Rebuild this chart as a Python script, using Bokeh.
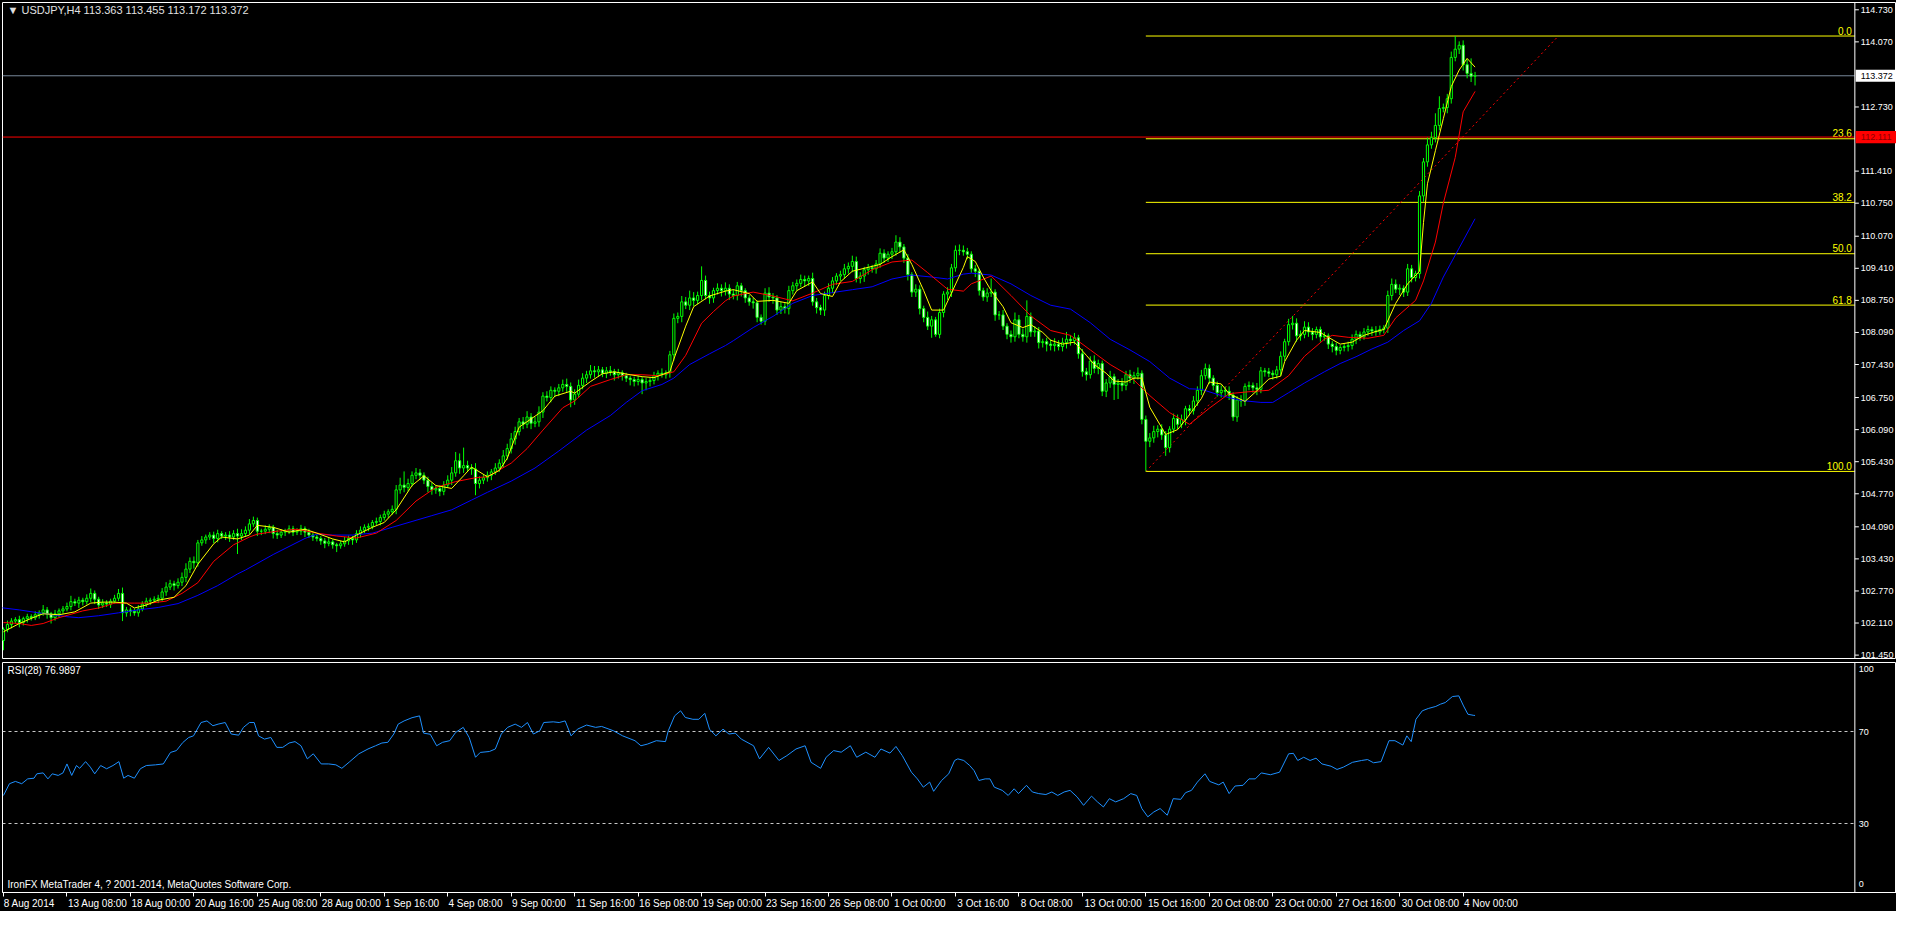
from bokeh.plotting import figure
from bokeh.layouts import column
from bokeh.models import FixedTicker, Range1d
from bokeh.embed import file_html
from bokeh.resources import INLINE
from bokeh.core.properties import value

# ---------------- data ----------------
title_text = "\u25bc USDJPY,H4  113.363 113.455 113.172 113.372"
rsi_title = "RSI(28) 76.9897"
copyright_text = "IronFX MetaTrader 4, ? 2001-2014, MetaQuotes Software Corp."

first_open = 101.75
closes = [
    101.98, 102.08,
    102.15, 102.18, 102.12, 102.20, 102.24, 102.22,
    102.28, 102.32, 102.38, 102.30, 102.22, 102.30,
    102.36, 102.40, 102.45, 102.55, 102.52, 102.58,
    102.55, 102.62, 102.72, 102.60, 102.48, 102.52,
    102.50, 102.56, 102.62, 102.72, 102.32, 102.38,
    102.35, 102.32, 102.40, 102.50, 102.56, 102.58,
    102.60, 102.62, 102.75, 102.85, 102.92, 102.88,
    102.95, 103.05, 103.22, 103.38, 103.35, 103.76,
    103.82, 103.88, 103.92, 103.85, 103.95, 103.90,
    103.92, 103.88, 103.95, 103.90, 103.95, 104.02,
    104.15, 104.22, 104.00, 104.00, 104.04, 104.08,
    103.95, 103.92, 103.98, 104.00, 104.05, 103.98,
    104.00, 104.05, 103.98, 103.92, 103.88, 103.85,
    103.80, 103.75, 103.78, 103.72, 103.70, 103.74,
    103.80, 103.85, 103.82, 103.95, 104.02, 104.08,
    104.10, 104.18, 104.20, 104.28, 104.35, 104.40,
    104.45, 104.85, 104.95, 104.90, 104.98, 105.15,
    105.20, 105.15, 105.05, 104.92, 104.85, 104.88,
    104.82, 104.95, 105.05, 105.20, 105.45, 105.30,
    105.35, 105.30, 105.28, 104.98, 105.05, 105.10,
    105.15, 105.22, 105.30, 105.40, 105.55, 105.70,
    105.90, 106.05, 106.25, 106.20, 106.35, 106.22,
    106.25, 106.45, 106.78, 106.75, 106.90, 106.88,
    106.95, 107.02, 106.98, 106.70, 106.82, 107.00,
    107.15, 107.22, 107.30, 107.28, 107.32, 107.25,
    107.30, 107.28, 107.22, 107.26, 107.20, 107.15,
    107.12, 107.08, 107.12, 107.05, 107.08, 107.10,
    107.20, 107.25, 107.22, 107.26, 107.63, 108.38,
    108.42, 108.72, 108.65, 108.80, 108.75, 108.85,
    109.16, 108.85, 108.80, 108.95, 109.00, 108.95,
    109.00, 108.88, 108.85, 109.05, 108.95, 108.80,
    108.72, 108.70, 108.40, 108.32, 108.90, 108.82,
    108.80, 108.55, 108.62, 108.58, 108.95, 109.05,
    109.10, 109.18, 109.15, 109.20, 108.72, 108.60,
    108.55, 108.85, 109.00, 109.15, 109.25, 109.28,
    109.40, 109.45, 109.55, 109.20, 109.25, 109.38,
    109.42, 109.40, 109.50, 109.72, 109.62, 109.70,
    109.75, 109.95, 109.85, 109.62, 109.28, 108.92,
    108.98, 108.58, 108.40, 108.22, 108.35, 108.05,
    108.50, 108.88, 108.92, 109.42, 109.78, 109.78,
    109.75, 109.70, 109.40, 109.35, 108.95, 108.82,
    108.90, 108.92, 108.45, 108.45, 108.22, 108.05,
    108.00, 108.35, 108.05, 108.00, 108.42, 108.10,
    108.12, 107.88, 107.90, 107.85, 107.82, 107.85,
    107.80, 107.88, 107.95, 107.92, 107.98, 107.65,
    107.28, 107.22, 107.50, 107.35, 107.45, 106.88,
    107.05, 107.18, 107.02, 107.05, 107.00, 107.22,
    107.15, 107.20, 107.25, 106.30, 105.85, 105.92,
    106.05, 106.10, 105.98, 105.72, 106.10, 106.32,
    106.20, 106.30, 106.52, 106.48, 106.68, 106.90,
    107.20, 107.35, 107.15, 107.00, 106.85, 106.90,
    106.88, 106.80, 106.35, 106.70, 106.68, 106.98,
    107.00, 106.95, 106.92, 107.30, 107.28, 107.25,
    107.22, 107.32, 107.60, 107.90, 108.25, 108.28,
    108.02, 108.05, 108.20, 108.10, 108.05, 108.15,
    108.00, 108.02, 107.85, 107.80, 107.72, 107.78,
    107.80, 107.82, 107.95, 108.05, 108.00, 108.10,
    108.15, 108.12, 108.10, 108.15, 108.18, 108.85,
    109.08, 108.98, 109.00, 108.92, 109.40, 109.22,
    109.30, 110.90, 111.60, 111.95, 112.10, 112.35,
    112.70, 112.72, 112.90, 113.75, 113.92, 114.00,
    113.60, 113.42, 113.363, 113.372,
]
# upper / lower wick lengths in pips (0.01)
wick_up = [
    4, 8,
    6, 5, 8, 4, 6, 5,   7, 5, 10, 6, 4, 8,   5, 6, 8, 12, 6, 7,   5, 8, 10, 6, 5, 8,   6, 5, 7, 9, 12, 6,
    5, 6, 8, 6, 7, 5,   6, 7, 8, 10, 8, 6,   8, 10, 12, 8, 10, 6,   8, 5, 6, 7, 8, 5,   6, 8, 7, 10, 9, 8,
    10, 8, 6, 5, 8, 6,  5, 8, 6, 5, 7, 6,    6, 8, 5, 7, 6, 5,    5, 6, 8, 5, 4, 6,   8, 6, 5, 7, 8, 6,
    6, 5, 8, 6, 7, 5,   8, 10, 15, 28, 10, 8,  10, 8, 6, 7, 8, 6,  6, 8, 10, 12, 18, 15,  37, 10, 8, 12, 8, 6,
    8, 6, 10, 8, 12, 10,  12, 10, 8, 10, 12, 8,  10, 12, 8, 10, 8, 6,  8, 10, 12, 8, 10, 12,  10, 8, 12, 10, 8, 6,
    8, 10, 6, 8, 5, 6,  5, 6, 8, 5, 7, 6,  8, 6, 10, 5, 8, 10,  8, 12, 10, 15, 12, 8,  29, 10, 8, 6, 10, 8,
    12, 8, 10, 8, 6, 5,  6, 8, 5, 6, 10, 12,  8, 6, 10, 8, 10, 8,  8, 10, 8, 6, 12, 8,  6, 8, 10, 8, 6, 8,
    10, 8, 12, 10, 8, 6,  8, 6, 8, 10, 8, 6,  8, 14, 10, 6, 8, 5,  10, 8, 6, 12, 8, 6,  8, 6, 10, 8, 10, 12,
    10, 8, 6, 8, 5, 6,  10, 28, 6, 8, 10, 6,  8, 15, 10, 12, 33, 8,  10, 8, 6, 8, 10, 12,  8, 10, 15, 8, 10, 6,
    10, 8, 10, 12, 8, 6,  8, 12, 6, 8, 10, 8,  10, 8, 12, 6, 8, 10,  12, 8, 10, 8, 6, 10,  8, 10, 6, 8, 10, 8,
    12, 10, 8, 6, 8, 10,  8, 10, 6, 8, 10, 6,  8, 6, 10, 8, 6, 8,  6, 8, 10, 6, 12, 15,  10, 8, 12, 10, 8, 6,
    6, 8, 5, 6, 8, 5,  6, 8, 10, 8, 6, 8,  8, 6, 10, 8, 6, 10,  12, 10, 8, 6, 10, 8,  6, 10, 8, 15, 12, 25,
    25, 8, 10, 12, 27, 8,
    10, 12, 31, 8,
]
wick_dn = [
    20, 6,
    8, 5, 10, 6, 8, 6,   5, 8, 6, 10, 12, 6,   8, 6, 5, 8, 6, 10,   8, 6, 8, 10, 8, 6,   6, 8, 5, 6, 17, 8,
    10, 6, 8, 5, 6, 8,   5, 8, 6, 8, 6, 10,   6, 8, 10, 8, 12, 8,   6, 8, 6, 10, 8, 6,   8, 10, 6, 37, 8, 6,
    8, 6, 10, 8, 6, 8,   10, 8, 6, 8, 6, 8,   6, 8, 10, 6, 8, 6,   8, 10, 6, 8, 13, 6,   6, 8, 10, 6, 8, 6,
    8, 6, 5, 8, 6, 8,   6, 10, 8, 10, 8, 6,   8, 10, 8, 12, 10, 8,   10, 8, 6, 10, 8, 12,   10, 8, 12, 24, 10, 8,
    8, 10, 6, 8, 10, 8,   10, 12, 8, 10, 8, 12,   8, 10, 12, 8, 10, 12,   10, 8, 12, 15, 10, 8,   8, 10, 8, 12, 10, 8,
    10, 8, 12, 8, 10, 8,   12, 10, 8, 23, 15, 10,   8, 10, 6, 8, 10, 12,   10, 12, 8, 10, 12, 8,   10, 8, 12, 10, 8, 12,
    10, 12, 8, 10, 12, 10,   8, 12, 10, 7, 8, 10,   12, 10, 8, 10, 12, 8,   10, 8, 12, 10, 8, 12,   10, 12, 8, 10, 8, 10,
    8, 10, 12, 8, 10, 12,   10, 8, 10, 8, 10, 8,   10, 8, 12, 10, 12, 10,   10, 12, 10, 8, 24, 5,   8, 10, 12, 10, 8, 10,
    8, 10, 8, 12, 10, 8,   10, 8, 12, 10, 8, 10,   12, 10, 8, 10, 12, 10,   10, 12, 10, 15, 10, 12,   8, 10, 12, 10, 8, 10,
    10, 12, 8, 10, 12, 10,   12, 10, 32, 30, 12, 10,   10, 12, 8, 10, 62, 12,   10, 12, 10, 17, 10, 8,   10, 8, 12, 10, 8, 10,
    10, 8, 12, 10, 8, 10,   12, 10, 8, 10, 12, 10,   8, 10, 12, 8, 10, 8,   10, 8, 12, 10, 8, 10,   12, 10, 8, 10, 12, 8,
    10, 8, 10, 12, 10, 8,   8, 10, 8, 10, 8, 6,   8, 10, 8, 6, 8, 10,   10, 8, 12, 10, 8, 10,   8, 10, 12, 10, 8, 10,
    10, 8, 12, 10, 8, 10,
    12, 10, 12, 19,
]

# moving averages (bar index, price)
yellow_bar = [0, 4, 8, 10, 14, 18, 22, 25, 28, 31, 33, 36, 39, 43, 46, 49, 53, 55, 59, 62, 64, 68, 72, 76, 79, 83, 86, 89, 93, 96,
              99, 103, 106, 109, 113, 116, 118, 122, 125, 127, 130, 136, 139, 143, 144, 148, 151, 154, 158, 161, 164, 168, 169, 172,
              174, 178, 182, 184, 188, 190, 194, 198, 200, 204, 206, 209, 211, 214, 218, 221, 224, 227, 229, 232, 234, 237, 239, 242,
              243, 245, 247, 249, 252, 254, 257, 259, 262, 264, 267, 270, 273, 275, 278, 280, 283, 285, 287, 289, 292, 293, 296, 298,
              302, 304, 307, 309, 312, 313, 316, 319, 322, 323, 326, 328, 332, 334, 337, 340, 343, 346, 348, 351, 354, 357, 358, 359,
              361, 363, 365, 367, 369, 371]
yellow_val = [101.93, 102.10, 102.24, 102.30, 102.28, 102.34, 102.52, 102.54, 102.54, 102.52, 102.42, 102.48, 102.58, 102.64, 102.88,
              103.32, 103.74, 103.88, 103.84, 103.92, 104.12, 104.08, 103.98, 104.04, 103.96, 103.84, 103.78, 103.92, 104.08, 104.18,
              104.44, 104.94, 105.14, 104.94, 104.88, 105.14, 105.32, 105.12, 105.25, 105.50, 106.14, 106.48, 106.78, 106.88, 106.84,
              107.08, 107.24, 107.28, 107.22, 107.18, 107.16, 107.28, 107.54, 108.22, 108.62, 108.84, 108.94, 108.97, 108.89, 108.73,
              108.75, 108.69, 108.95, 109.13, 108.89, 108.83, 109.13, 109.35, 109.43, 109.49, 109.65, 109.79, 109.49, 108.95, 108.55,
              108.55, 108.90, 109.43, 109.65, 109.55, 109.23, 108.95, 108.62, 108.29, 108.19, 108.25, 108.09, 107.93, 107.85, 107.89,
              107.62, 107.43, 107.25, 107.09, 107.07, 107.15, 107.15, 106.55, 106.13, 105.99, 106.09, 106.29, 106.73, 107.07, 107.03,
              106.83, 106.71, 106.67, 106.89, 107.13, 107.19, 107.49, 107.93, 108.13, 108.09, 107.99, 107.85, 107.89, 108.03, 108.11,
              108.15, 108.69, 109.09, 109.35, 110.35, 111.15, 111.83, 112.49, 113.15, 113.49, 113.73, 113.55]
red_bar = [0, 4, 7, 10, 14, 20, 24, 28, 33, 37, 41, 45, 49, 53, 58, 62, 64, 69, 74, 79, 84, 89, 94, 99, 104, 109, 114, 119, 122, 128,
           132, 136, 141, 144, 148, 153, 157, 161, 165, 169, 172, 176, 179, 182, 184, 189, 194, 199, 204, 209, 214, 219, 224, 229,
           233, 238, 242, 244, 249, 254, 259, 264, 269, 274, 279, 284, 289, 294, 299, 304, 309, 314, 319, 324, 328, 333, 335, 339,
           344, 348, 351, 356, 358, 361, 363, 366, 368, 371]
red_val = [102.12, 102.10, 102.06, 102.10, 102.22, 102.36, 102.42, 102.52, 102.52, 102.52, 102.56, 102.72, 102.94, 103.38, 103.72,
           103.88, 103.94, 104.00, 104.04, 103.96, 103.90, 103.86, 103.96, 104.22, 104.62, 104.90, 105.02, 105.10, 105.12, 105.40,
           105.70, 106.08, 106.54, 106.68, 106.98, 107.12, 107.22, 107.22, 107.20, 107.28, 107.62, 108.28, 108.52, 108.74, 108.84,
           108.92, 108.84, 108.74, 108.90, 109.08, 109.14, 109.38, 109.54, 109.58, 109.32, 108.98, 108.94, 109.09, 109.25, 108.85,
           108.43, 108.13, 108.03, 107.73, 107.43, 107.19, 106.79, 106.44, 106.20, 106.53, 106.83, 106.87, 106.90, 107.20, 107.60,
           107.95, 108.03, 107.99, 107.97, 108.03, 108.39, 108.75, 109.15, 109.95, 110.75, 111.69, 112.63, 113.05]
blue_bar = [-1, 4, 8, 16, 19, 24, 29, 34, 39, 44, 49, 54, 59, 61, 68, 76, 79, 83, 88, 93, 98, 103, 108, 113, 118, 122, 128, 134, 140,
            147, 153, 157, 161, 166, 169, 173, 178, 182, 184, 189, 194, 199, 204, 209, 214, 219, 224, 229, 234, 238, 242, 244, 249,
            254, 259, 264, 269, 274, 279, 284, 289, 294, 299, 302, 307, 312, 317, 320, 324, 328, 333, 337, 341, 345, 349, 353, 357,
            360, 363, 367, 371]
blue_val = [102.43, 102.38, 102.33, 102.24, 102.22, 102.26, 102.32, 102.38, 102.43, 102.51, 102.68, 102.88, 103.12, 103.20, 103.52,
            103.85, 103.94, 103.92, 103.92, 103.96, 104.08, 104.20, 104.32, 104.44, 104.64, 104.80, 105.03, 105.30, 105.65, 106.08,
            106.38, 106.65, 106.89, 107.02, 107.15, 107.43, 107.65, 107.82, 107.92, 108.19, 108.42, 108.69, 108.85, 108.91, 108.97,
            109.03, 109.19, 109.27, 109.23, 109.19, 109.29, 109.31, 109.27, 109.09, 108.85, 108.65, 108.57, 108.29, 107.95, 107.73,
            107.49, 107.15, 106.93, 106.92, 106.79, 106.69, 106.65, 106.65, 106.85, 107.05, 107.28, 107.45, 107.59, 107.75, 107.89,
            108.13, 108.33, 108.69, 109.23, 109.83, 110.43]

# RSI(28)
rsi_bar = [0, 1.5, 3, 4.6, 6.1, 7.7, 8.4, 10, 11.2, 12.3, 13.8, 15, 16, 17.2, 18.4, 19.2, 20.7, 21.9, 23, 24.5, 26, 27.6, 29.1, 30.3,
           31.4, 33, 34.5, 36, 38.3, 40.3, 42.1, 43.6, 45.2, 46.7, 47.9, 49.8, 51.3, 52.8, 54.1, 55.9, 57.4, 59.3, 60.5, 62, 63.2,
           64.3, 65.8, 67.4, 68.9, 70.4, 72, 73.5, 75, 76.6, 78.1, 80.1, 82, 83.8, 85.3, 87.3, 89.6, 91.9, 93.8, 95.4, 96.9, 98.4,
           99.5, 101, 103, 104.9, 105.9, 107.6, 109.2, 110.7, 112.5, 114, 115.9, 117.4, 119, 120.2, 122.5, 124, 125.5, 127.1, 129,
           130.6, 132.1, 133.6, 135.2, 136.2, 138.6, 140.1, 141.6, 143.1, 144.7, 147, 149.3, 150.8, 153.8, 156.1, 159.2, 160.7,
           162.3, 164.6, 166.9, 167.6, 169.2, 170.7, 171.9, 173.8, 175.3, 176.8, 178, 179.6, 181.4, 182.9, 184.5, 186, 189.1, 190.6,
           192.9, 195.5, 197.5, 199.8, 202.1, 203.6, 206, 207.4, 209.3, 211.2, 213.5, 215.1, 217.4, 219.7, 221.2, 223.5, 225, 226.6,
           228.9, 230.4, 231.9, 233.5, 234.5, 236.5, 238.3, 239.8, 240.6, 242.1, 243.6, 244.7, 245.9, 247.5, 248.7, 249.8, 251.8,
           253.3, 254.8, 255.9, 257.9, 259.4, 261, 262.8, 264.3, 265.8, 267.4, 268.9, 270.7, 272.3, 274.3, 275.8, 277.3, 278.8,
           280.4, 282.4, 284.2, 285.7, 287, 288.5, 290, 291.6, 293.4, 294.9, 296.8, 298, 299.5, 301, 302.9, 304.1, 306.4, 307.5,
           309, 310.5, 312.5, 314, 315.6, 317.1, 319.4, 321.7, 324, 325.2, 326.3, 327.8, 329.4, 330.9, 332.4, 334.7, 336.2, 337.8,
           340.1, 342.4, 343.9, 345.4, 347.3, 349.3, 350.8, 352.8, 353.8, 354.9, 356.1, 357.7, 359.2, 361.1, 362.3, 363.5, 365.3,
           366.9, 368.1, 369.2, 370.7, 371]
rsi_val = [42.2, 47.3, 48.3, 47.3, 49.4, 49.7, 51.6, 52.0, 49.4, 51.6, 50.9, 52.0, 55.9, 50.9, 55.2, 54.0, 56.9, 54.5, 51.6, 55.2,
           53.8, 55.2, 56.9, 49.7, 50.9, 49.7, 53.8, 55.2, 55.5, 55.9, 60.9, 61.7, 65.2, 67.4, 68.1, 73.9, 74.6, 72.5, 73.2, 73.9,
           68.9, 68.4, 71.8, 73.9, 73.9, 68.1, 66.7, 67.4, 63.1, 63.1, 65.0, 65.6, 63.8, 58.1, 60.3, 55.9, 55.9, 55.5, 54.0, 56.9,
           60.3, 62.4, 63.8, 65.0, 65.3, 68.9, 73.2, 74.6, 76.0, 76.8, 69.3, 68.8, 63.8, 65.3, 66.0, 69.6, 71.8, 67.4, 58.8, 60.9,
           61.3, 62.4, 68.9, 71.8, 73.2, 71.8, 73.9, 68.9, 70.3, 73.9, 74.2, 73.9, 74.6, 68.1, 71.0, 72.8, 71.8, 72.2, 70.3, 68.1,
           66.0, 63.8, 64.5, 66.0, 65.6, 70.3, 76.8, 79.0, 76.1, 75.3, 75.3, 77.9, 71.0, 68.1, 71.0, 68.9, 69.3, 66.7, 63.8, 58.1,
           63.1, 57.4, 59.5, 62.4, 63.8, 56.6, 54.0, 58.8, 61.7, 61.0, 63.8, 58.8, 61.0, 58.8, 62.4, 60.6, 63.5, 59.5, 52.3, 49.4,
           45.8, 48.0, 44.0, 48.7, 51.6, 57.4, 58.1, 57.4, 55.2, 53.0, 48.7, 49.4, 49.4, 45.8, 44.4, 42.2, 45.1, 43.0, 46.6, 43.7,
           43.0, 42.6, 43.7, 42.2, 43.7, 44.4, 41.5, 37.9, 41.9, 39.4, 37.2, 40.8, 39.4, 40.8, 43.0, 42.2, 36.5, 32.9, 35.0, 36.5,
           33.6, 40.8, 40.5, 43.4, 44.4, 48.0, 51.6, 48.3, 46.8, 48.0, 43.0, 46.3, 46.6, 49.4, 49.4, 52.0, 51.2, 52.3, 60.3, 60.5,
           57.4, 58.8, 57.4, 58.4, 55.9, 54.9, 53.5, 54.5, 56.6, 57.4, 57.8, 56.4, 56.9, 66.0, 66.0, 64.1, 68.1, 65.6, 75.3, 79.0,
           80.0, 80.9, 81.9, 82.6, 85.2, 85.5, 81.1, 77.5, 77.0, 76.99]

# Fibonacci retracement (anchored at bar 288 low)
fib_start_bar = 288
fib_high = 114.19
fib_low = 105.23
fib_levels = [0.0, 23.6, 38.2, 50.0, 61.8, 100.0]
fib_labels = ["0.0", "23.6", "38.2", "50.0", "61.8", "100.0"]
trend_bars = [288, 392]
trend_prices = [105.23, 114.19]
hline_price = 112.111
hline_label = "112.111"
bid_price = 113.372
bid_label = "113.372"

price_ticks = [114.73, 114.07, 112.73, 111.41, 110.75, 110.07, 109.41, 108.75, 108.09, 107.43,
               106.75, 106.09, 105.43, 104.77, 104.09, 103.43, 102.77, 102.11, 101.45]
rsi_levels = [70, 30]
rsi_ticks = [100, 70, 30, 0]
rsi_tick_labels = ["100", "70", "30", "0"]
time_labels = ["8 Aug 2014", "13 Aug 08:00", "18 Aug 00:00", "20 Aug 16:00", "25 Aug 08:00", "28 Aug 00:00",
               "1 Sep 16:00", "4 Sep 08:00", "9 Sep 00:00", "11 Sep 16:00", "16 Sep 08:00", "19 Sep 00:00",
               "23 Sep 16:00", "26 Sep 08:00", "1 Oct 00:00", "3 Oct 16:00", "8 Oct 08:00", "13 Oct 00:00",
               "15 Oct 16:00", "20 Oct 08:00", "23 Oct 00:00", "27 Oct 16:00", "30 Oct 08:00", "4 Nov 00:00"]
time_label_bars = [0, 16, 32, 48, 64, 80, 96, 112, 128, 144, 160, 176, 192, 208, 224, 240, 256, 272,
                   288, 304, 320, 336, 352, 368]

# ---------------- derived candle geometry ----------------
n = min(len(closes), len(wick_up), len(wick_dn))
bars = list(range(n))
opens = [first_open] + closes[:n - 1]
highs = [max(opens[i], closes[i]) + wick_up[i] / 100.0 for i in range(n)]
lows = [min(opens[i], closes[i]) - wick_dn[i] / 100.0 for i in range(n)]
tops = [max(opens[i], closes[i]) for i in range(n)]
bots = [min(opens[i], closes[i]) for i in range(n)]
fills = ["black" if closes[i] >= opens[i] else "white" for i in range(n)]

# ---------------- layout constants ----------------
FONT = "Liberation Sans"
FRAME_W = 1894
PX_PER_BAR = 4.0 * 1894 / 1910
X0 = -0.25
X_END = X0 + FRAME_W / PX_PER_BAR
X_AX = 466.75            # bar position of the price-scale line
TICK_LEN = 4 / PX_PER_BAR
Y0, Y1 = 101.38, 114.88
WHITE = "white"

# ---------------- main price panel ----------------
p = figure(output_backend="svg", toolbar_location=None,
           frame_width=FRAME_W, frame_height=656,
           x_range=Range1d(X0, X_END), y_range=Range1d(Y0, Y1),
           x_axis_location=None, y_axis_location=None,
           background_fill_color="black", border_fill_color="black",
           outline_line_color=WHITE, outline_line_width=1,
           min_border_left=2, min_border_top=2, min_border_bottom=2, min_border_right=0)
p.grid.visible = False

# bid line and fibonacci
p.segment(x0=[X0], x1=[X_AX], y0=[bid_price], y1=[bid_price], line_color="#778899", line_width=1)
fib_prices = [fib_high - (fib_high - fib_low) * lv / 100.0 for lv in fib_levels]
p.segment(x0=[fib_start_bar] * len(fib_prices), x1=[X_AX] * len(fib_prices),
          y0=fib_prices, y1=fib_prices, line_color="#FFFF00", line_width=1)
p.text(x=[X_AX] * len(fib_prices), y=[fp + 0.03 for fp in fib_prices], text=fib_labels,
       x_offset=-3, text_align="right", text_baseline="bottom", text_color="#FFFF00",
       text_font=value(FONT), text_font_size=value("10px"))
p.segment(x0=[X0], x1=[X_AX], y0=[hline_price], y1=[hline_price], line_color="#FF0000", line_width=1)

# trend line
p.line(trend_bars, trend_prices, line_color="#FF0000", line_width=1, line_dash="2 3")

# candles
p.segment(x0=bars, x1=bars, y0=lows, y1=highs, line_color="#00FF00", line_width=1)
p.vbar(x=bars, width=0.55, top=tops, bottom=bots, fill_color=fills, line_color="#00FF00", line_width=1)

# moving averages
p.line(blue_bar, blue_val, line_color="#0000FF", line_width=1)
p.line(red_bar, red_val, line_color="#FF0000", line_width=1)
p.line(yellow_bar, yellow_val, line_color="#FFFF00", line_width=1)

# title
p.text(x=[X0], y=[114.72], text=[title_text], x_offset=5, text_align="left", text_baseline="middle",
       text_color="#E0E0E0", text_font=value(FONT), text_font_size=value("11px"))

# price scale (drawn inside the frame, MT4 style)
p.segment(x0=[X_AX], x1=[X_AX], y0=[Y0], y1=[Y1 + 1], line_color=WHITE, line_width=1)
p.segment(x0=[X_AX] * len(price_ticks), x1=[X_AX + TICK_LEN] * len(price_ticks),
          y0=price_ticks, y1=price_ticks, line_color=WHITE, line_width=1)
p.text(x=[X_AX] * len(price_ticks), y=price_ticks, text=["%.3f" % t for t in price_ticks],
       x_offset=6, text_align="left", text_baseline="middle", text_color=WHITE,
       text_font=value(FONT), text_font_size=value("9px"))

# boxed current-price and line-price labels
box_h = 0.125
p.quad(left=[X_AX + 0.2, X_AX + 0.2], right=[X_END + 1, X_END + 1],
       bottom=[bid_price - box_h, hline_price - box_h], top=[bid_price + box_h, hline_price + box_h],
       fill_color=["white", "#FF0000"], line_color=None)
p.text(x=[X_AX, X_AX], y=[bid_price, hline_price], text=[bid_label, hline_label],
       x_offset=6, text_align="left", text_baseline="middle", text_color=["black", "#8B0000"],
       text_font=value(FONT), text_font_size=value("9px"))

# ---------------- RSI panel ----------------
r = figure(output_backend="svg", toolbar_location=None,
           frame_width=FRAME_W, frame_height=230,
           x_range=p.x_range, y_range=Range1d(0, 100),
           y_axis_location=None,
           background_fill_color="black", border_fill_color="black",
           outline_line_color=WHITE, outline_line_width=1,
           min_border_left=2, min_border_top=2, min_border_bottom=0, min_border_right=0)
r.grid.visible = False

# time axis: labels start at the tick (MT4 style)
centers = []
overrides = {}
for b, t in zip(time_label_bars, time_labels):
    c = b + round(len(t) * 0.62 * 4) / 4.0 + 0.25
    centers.append(c)
    overrides[c] = t
rx = r.xaxis[0]
rx.ticker = FixedTicker(ticks=centers, minor_ticks=time_label_bars)
rx.major_label_overrides = overrides
rx.axis_line_color = WHITE
rx.major_tick_line_color = None
rx.major_tick_out = 0
rx.major_tick_in = 0
rx.minor_tick_line_color = WHITE
rx.minor_tick_out = 4
rx.minor_tick_in = 0
rx.major_label_standoff = 1
rx.major_label_text_color = WHITE
rx.major_label_text_font = FONT
rx.major_label_text_font_size = "10px"

r.segment(x0=[X0] * len(rsi_levels), x1=[X_AX] * len(rsi_levels), y0=rsi_levels, y1=rsi_levels,
          line_color="#C8C8C8", line_width=1, line_dash="3 3")

m = min(len(rsi_bar), len(rsi_val))
r.line(rsi_bar[:m], rsi_val[:m], line_color="#1E90FF", line_width=1)

# RSI scale
r.segment(x0=[X_AX], x1=[X_AX], y0=[-1], y1=[101], line_color=WHITE, line_width=1)
rsi_label_y = [98.3, 70, 30, 2.2]
rsi_label_base = ["top", "middle", "middle", "bottom"]
for yy, tt, bb in zip(rsi_label_y, rsi_tick_labels, rsi_label_base):
    r.text(x=[X_AX], y=[yy], text=[tt], x_offset=4, text_align="left", text_baseline=bb,
           text_color=WHITE, text_font=value(FONT), text_font_size=value("9px"))

r.text(x=[X0], y=[96.5], text=[rsi_title], x_offset=5, text_align="left", text_baseline="middle",
       text_color=WHITE, text_font=value(FONT), text_font_size=value("10px"))
r.text(x=[X0], y=[3.5], text=[copyright_text], x_offset=5, text_align="left", text_baseline="middle",
       text_color=WHITE, text_font=value(FONT), text_font_size=value("10px"))

layout = column(p, r, spacing=0, styles={"background-color": "black"})

html = file_html(layout, INLINE, title="USDJPY,H4")
html = html.replace("<body>", '<body style="background-color:#000000;">', 1)
open("out.html", "w").write(html)
